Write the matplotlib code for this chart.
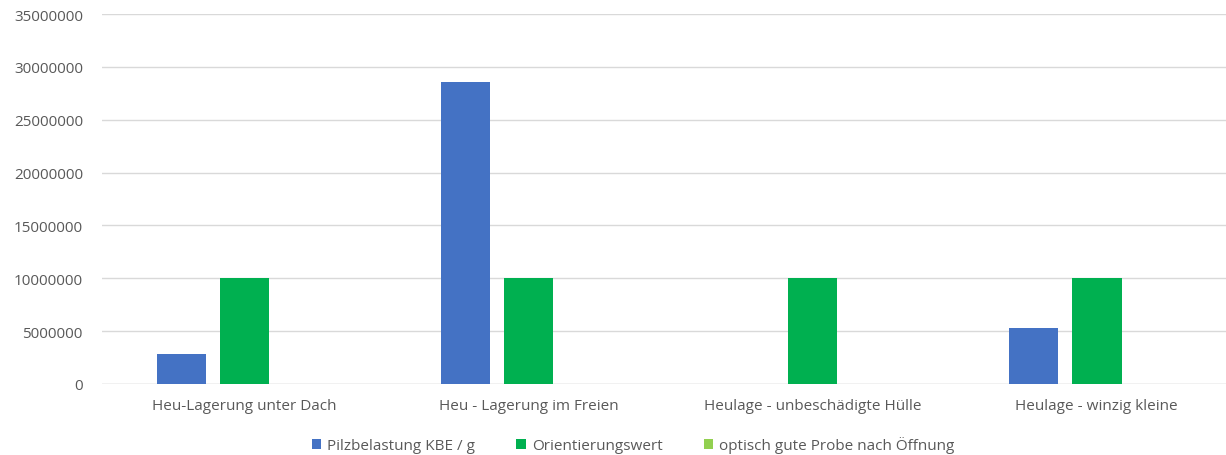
import numpy as np
import matplotlib
matplotlib.use('Agg')
import matplotlib.pyplot as plt
from matplotlib.ticker import MultipleLocator, FuncFormatter

plt.rcParams['font.family'] = ['Open Sans', 'DejaVu Sans']

categories = ['Heu-Lagerung unter Dach', 'Heu - Lagerung im Freien',
              'Heulage - unbeschädigte Hülle', 'Heulage - winzig kleine']
series_names = ['Pilzbelastung KBE / g', 'Orientierungswert',
                'optisch gute Probe nach Öffnung']
pilz = [2800000, 28600000, 0, 5300000]
orient = [10000000, 10000000, 10000000, 10000000]
optisch = [0, 0, 0, 0]
colors = ['#4472C4', '#00B050', '#92D050']

fig = plt.figure(figsize=(12.26, 4.56), dpi=100)
# plot area runs a bit past the right edge, as in the cropped reference
ax = fig.add_axes([0.0835, 0.156, 0.927, 0.811])

x = np.arange(len(categories))
w = 0.174
step = 0.222
for i, (vals, name, c) in enumerate(zip([pilz, orient, optisch], series_names, colors)):
    ax.bar(x + (i - 1) * step, vals, width=w, color=c, label=name, zorder=3)

ax.set_xlim(-0.5, len(categories) - 0.5)
ax.set_ylim(0, 35000000)
ax.yaxis.set_major_locator(MultipleLocator(5000000))
ax.yaxis.set_major_formatter(FuncFormatter(lambda v, p: f'{int(v)}'))
ax.grid(axis='y', color='#D9D9D9', linewidth=1, zorder=0)
ax.set_xticks(x)
ax.set_xticklabels(categories)
for s in ax.spines.values():
    s.set_visible(False)
ax.axhline(0, color='#D9D9D9', linewidth=1, zorder=2)
ax.tick_params(axis='both', length=0, colors='#595959', labelsize=11)
ax.tick_params(axis='x', pad=10)
ax.tick_params(axis='y', pad=14)

ax.legend(loc='center', bbox_to_anchor=(0.467, -0.165), ncol=3, frameon=False,
          fontsize=11, labelcolor='#595959', handlelength=0.6, handleheight=0.6,
          handletextpad=0.4, columnspacing=2.7)

fig.savefig('out.png', dpi=100)
